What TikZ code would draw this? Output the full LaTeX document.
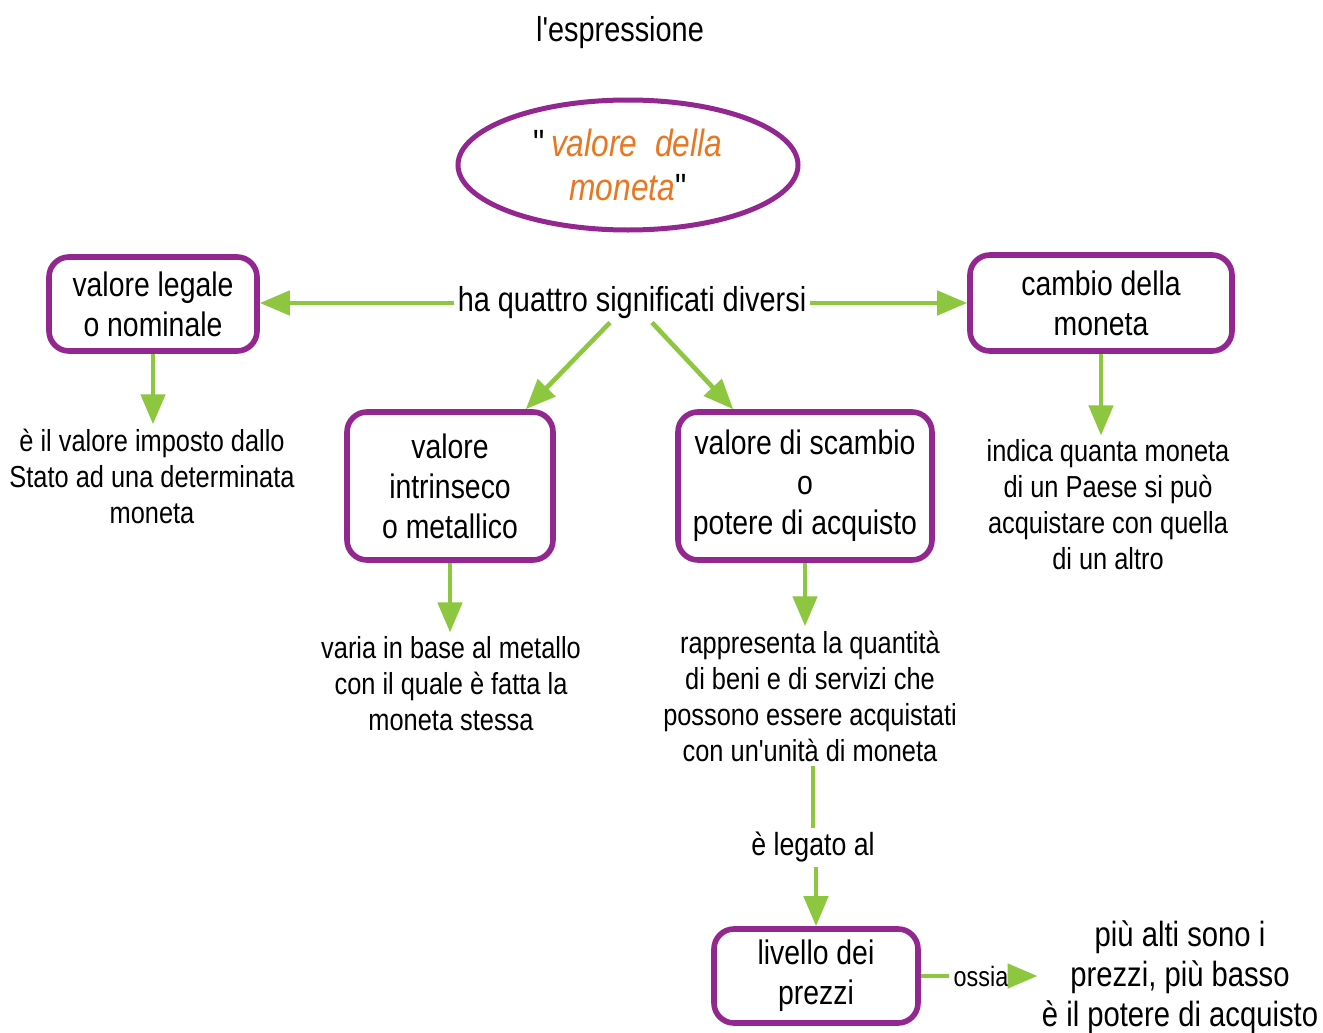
\documentclass[tikz,border=0pt]{standalone}
\usepackage{fontspec}
\setmainfont{Liberation Sans}[FakeStretch=0.835, Ligatures=TeXOff]
\usepackage{xcolor}
\usepackage{tikz}
\usetikzlibrary{shapes.geometric, arrows.meta, positioning}
\definecolor{mpurple}{RGB}{146,39,143}
\definecolor{mgreen}{RGB}{141,198,63}
\definecolor{morange}{RGB}{232,119,34}
\tikzstyle{concept} = [rectangle, draw=mpurple, line width=2.8pt, rounded corners=10pt, align=center, font=\fontsize{17}{20}\selectfont, inner sep=2pt]
\tikzstyle{keyconcept} = [ellipse, draw=mpurple, line width=2.5pt, align=center, font=\fontsize{19}{22}\selectfont, minimum width=170pt, minimum height=65pt]
\tikzstyle{desc} = [align=center, font=\fontsize{15.2}{18}\selectfont, inner sep=2pt]
\tikzstyle{linktext} = [align=center, font=\fontsize{17.3}{20}\selectfont, inner sep=1.5pt]
\tikzstyle{arrow} = [line width=2.3pt, draw=mgreen, -{Triangle[length=15pt,width=12pt]}]
\tikzstyle{plainlink} = [line width=2.3pt, draw=mgreen]

\begin{document}
\begin{tikzpicture}[x=0.5pt, y=-0.5pt]
    \useasboundingbox[fill=white] (0,0) rectangle (1323,1033);

    % Title and central concept
    \node[linktext] (expr) at (620,33) {l'espressione};
    \node[keyconcept] (valore) at (628,165) {"\hspace{3pt}\textcolor{morange}{\textit{valore\ \ della}}\\\textcolor{morange}{\textit{moneta}}"};
    \node[linktext] (quattro) at (632,303) {ha quattro significati diversi};

    % The four meanings
    \node[concept, minimum width=104pt, minimum height=47pt] (legale) at (153,304) {valore legale\\o nominale};
    \node[concept, minimum width=131pt, minimum height=48pt] (cambio) at (1101,303) {cambio della\\moneta};
    \node[concept, minimum width=103pt, minimum height=74pt] (intrinseco) at (450,486) {valore\\intrinseco\\o metallico};
    \node[concept, minimum width=127pt, minimum height=74pt] (scambio) at (805,486) {valore di scambio\\o\\potere di acquisto};

    % Explanations
    \node[desc] (legaledesc) at (152,476) {è il valore imposto dallo\\Stato ad una determinata\\moneta};
    \node[desc] (cambiodesc) at (1108,505) {indica quanta moneta\\di un Paese si può\\acquistare con quella\\di un altro};
    \node[desc] (intrdesc) at (451,684) {varia in base al metallo\\con il quale è fatta la\\moneta stessa};
    \node[desc] (scambiodesc) at (810,696) {rappresenta la quantità\\di beni e di servizi che\\possono essere acquistati\\con un'unità di moneta};

    % Price level branch
    \node[desc, font=\fontsize{16}{18}\selectfont] (legato) at (813,847) {è legato al};
    \node[concept, minimum width=102pt, minimum height=47pt] (livello) at (816,976) {livello dei\\prezzi};
    \node[desc, font=\fontsize{14}{16}\selectfont] (ossia) at (981,976) {ossia};
    \node[desc, font=\fontsize{17.5}{20}\selectfont] (piu) at (1180,977) {più alti sono i\\prezzi, più basso\\è il potere di acquisto};

    % Arrows from the link phrase
    \draw[arrow] (quattro.west) -- (quattro.west -| legale.east);
    \draw[arrow] (quattro.east) -- (quattro.east -| cambio.west);
    \draw[arrow] ([xshift=-11pt]quattro.south) -- ([xshift=-15pt]intrinseco.north east);
    \draw[arrow] ([xshift=10pt]quattro.south) -- ([xshift=29pt]scambio.north west);

    % Concepts to explanations
    \draw[arrow] (legale.south) -- (legale.south |- legaledesc.north);
    \draw[arrow] (cambio.south) -- (cambio.south |- cambiodesc.north);
    \draw[arrow] (intrinseco.south) -- (intrinseco.south |- intrdesc.north);
    \draw[arrow] (scambio.south) -- (scambio.south |- scambiodesc.north);

    % Down to the price level and beyond
    \draw[plainlink] (legato.north |- scambiodesc.south) -- (legato.north);
    \draw[arrow] (livello.north |- legato.south) -- (livello.north);
    \draw[plainlink] (livello.east) -- (ossia.west);
    \draw[arrow] (ossia.east) -- (ossia.east -| piu.west);
\end{tikzpicture}
\end{document}
